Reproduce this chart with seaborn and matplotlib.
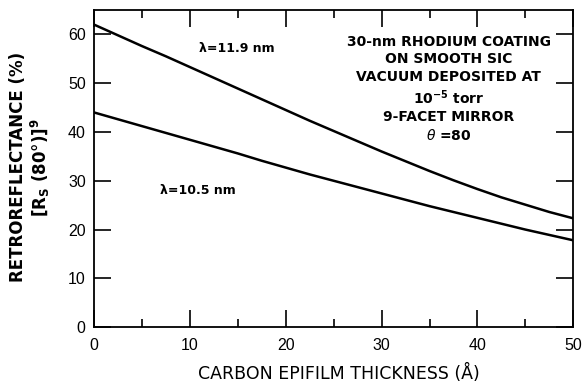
import numpy as np
import pandas as pd
import matplotlib
matplotlib.use("Agg")
import matplotlib.pyplot as plt
import seaborn as sns
from matplotlib.ticker import MultipleLocator

# Values
thickness = [0, 2.5, 5, 7.5, 10, 12.5, 15, 17.5, 20, 22.5, 25,
             27.5, 30, 32.5, 35, 37.5, 40, 42.5, 45, 47.5, 50]
refl_119 = [62.0, 59.8, 57.6, 55.5, 53.3, 51.1, 48.9, 46.7, 44.5, 42.3, 40.2,
            38.1, 36.0, 34.0, 32.0, 30.1, 28.3, 26.6, 25.1, 23.6, 22.3]
refl_105 = [44.0, 42.6, 41.2, 39.8, 38.4, 37.0, 35.6, 34.1, 32.7, 31.3, 30.0,
            28.7, 27.4, 26.1, 24.8, 23.6, 22.4, 21.2, 20.0, 18.9, 17.8]
y_ticks = [0, 10, 20, 30, 40, 50, 60]

df = pd.DataFrame({
    "thickness": thickness * 2,
    "refl": refl_119 + refl_105,
    "wl": ["11.9"] * len(thickness) + ["10.5"] * len(thickness),
})

sns.set_style("ticks")
plt.rcParams["font.family"] = ["DejaVu Sans"]
plt.rcParams["text.color"] = "black"
plt.rcParams["axes.labelcolor"] = "black"

fig = plt.figure(figsize=(5.88, 3.84), dpi=100)
ax = fig.add_axes([0.160, 0.148, 0.815, 0.826])

sns.lineplot(data=df, x="thickness", y="refl", units="wl", estimator=None,
             color="black", linewidth=1.8, ax=ax, legend=False)

ax.set_xlim(0, 50)
ax.set_ylim(0, 65)
ax.xaxis.set_major_locator(MultipleLocator(10))
ax.xaxis.set_minor_locator(MultipleLocator(5))
ax.set_yticks(y_ticks)

ax.tick_params(which="both", direction="in", top=True, right=True,
               colors="black", width=1.2)
ax.tick_params(which="major", length=12)
ax.tick_params(which="minor", length=6)
ax.tick_params(axis="x", pad=8)
ax.tick_params(axis="y", pad=6)
for lab in ax.get_xticklabels() + ax.get_yticklabels():
    lab.set_fontfamily("Liberation Sans")
    lab.set_fontsize(11.5)
for s in ax.spines.values():
    s.set_linewidth(1.3)
    s.set_color("black")

ax.set_xlabel("CARBON EPIFILM THICKNESS (Å)", fontsize=12.5)
ax.xaxis.set_label_coords(0.51, -0.115)
ax.set_ylabel("RETROREFLECTANCE (%)\n[R$_\\mathregular{S}$ (80°)]$^\\mathregular{9}$",
              fontsize=12, fontweight="bold", linespacing=1.1)
ax.yaxis.set_label_coords(-0.087, 0.505)

ax.text(14.9, 57.2, "λ=11.9 nm", fontsize=9, fontweight="bold",
        ha="center", va="center")
ax.text(10.8, 28.1, "λ=10.5 nm", fontsize=9, fontweight="bold",
        ha="center", va="center")

note = ("30-nm RHODIUM COATING\nON SMOOTH SIC\nVACUUM DEPOSITED AT\n"
        "10$^{\\mathregular{-5}}$ torr\n9-FACET MIRROR\n$\\theta$ =80")
ax.text(37.0, 48.8, note, fontsize=10, fontweight="bold", ha="center",
        va="center", linespacing=1.3)

fig.savefig("out.png", dpi=100, facecolor="white")
